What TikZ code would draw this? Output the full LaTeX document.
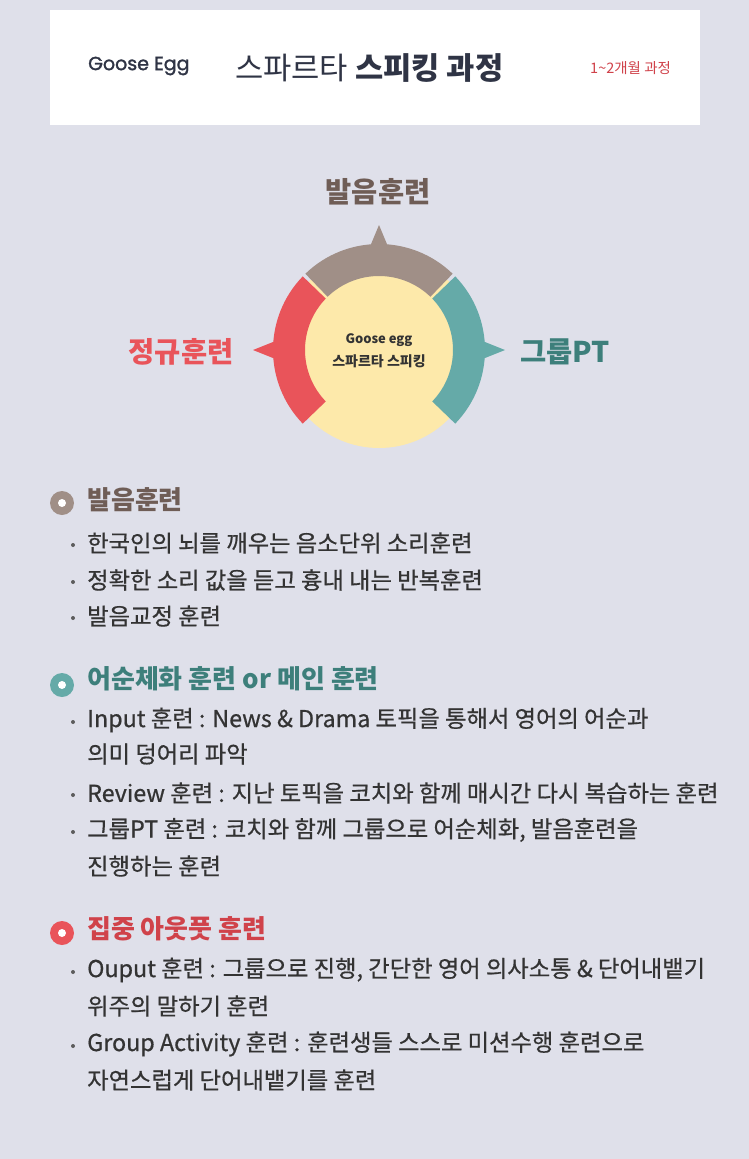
\documentclass[tikz,border=0pt]{standalone}
\usepackage{fontspec}
\setmainfont{Noto Sans CJK KR}
\newfontfamily\popfont[FakeBold=1.5]{Poppins}
\newfontfamily\medfont[FakeBold=0.6]{Noto Sans CJK KR}
\definecolor{bg}{HTML}{DFE0EA}
\definecolor{cbrown}{HTML}{A08F87}
\definecolor{tbrown}{HTML}{6F5D56}
\definecolor{cred}{HTML}{E9545A}
\definecolor{tred}{HTML}{D0424A}
\definecolor{cteal}{HTML}{65AAA8}
\definecolor{tteal}{HTML}{3D7F7B}
\definecolor{cyellow}{HTML}{FDE9AA}
\definecolor{navy}{HTML}{2F3445}
\definecolor{body}{HTML}{333333}
\tikzset{
  txt/.style={inner sep=0pt, anchor=west, text=body, font=\medfont\fontsize{23.3}{27}\selectfont},
  head/.style={inner sep=0pt, anchor=west, font=\fontsize{26}{30}\selectfont\bfseries},
  lbl/.style={inner sep=0pt, font=\fontsize{28.5}{33}\selectfont\bfseries},
  dot/.style={circle, fill=body!80, inner sep=0pt, minimum size=4pt},
  ring/.style={circle, inner sep=0pt, minimum size=24pt},
  hole/.style={circle, fill=white, inner sep=0pt, minimum size=8pt}
}
\begin{document}
\begin{tikzpicture}[x=1pt,y=-1pt]
\fill[bg] (0,0) rectangle (749,1159);
\useasboundingbox (0,0) rectangle (749,1159);
% header
\fill[white] (50,10) rectangle (700,125);
\node[inner sep=0pt, anchor=west, text=navy, font=\popfont\fontsize{19}{22}\selectfont] (brand) at (88,66) {Goose Egg};
\node[inner sep=0pt, anchor=west, text=navy, font=\fontsize{30.7}{36}\selectfont] (title) at (235,68) {스파르타 \textbf{스피킹 과정}};
\node[inner sep=0pt, anchor=west, text=tred, font=\fontsize{14.5}{17}\selectfont] (period) at (590,68) {1\textasciitilde 2개월 과정};
% diagram
\begin{scope}[shift={(379,350)}, y=1pt]
  \fill[cyellow] (0,0) circle[radius=98];
  \fill[cbrown] (46:106) arc[start angle=46,end angle=134,radius=106] -- (134:74) arc[start angle=134,end angle=46,radius=74] -- cycle;
  \fill[cred] (136:106) arc[start angle=136,end angle=224,radius=106] -- (224:74) arc[start angle=224,end angle=136,radius=74] -- cycle;
  \fill[cteal] (-44:106) arc[start angle=-44,end angle=44,radius=106] -- (44:74) arc[start angle=44,end angle=-44,radius=74] -- cycle;
  \fill[cbrown] (-10,101) -- (0,125) -- (10,101) -- cycle;
  \fill[cred] (-101,-10) -- (-126,0) -- (-101,10) -- cycle;
  \fill[cteal] (101,-10) -- (126,0) -- (101,10) -- cycle;
  \node[inner sep=0pt, text=body, font=\fontsize{13}{16}\selectfont\bfseries] (c1) at (0,10) {Goose egg};
  \node[inner sep=0pt, text=body, font=\fontsize{14}{17}\selectfont\bfseries] (c2) at (0,-11) {스파르타 스피킹};
\end{scope}
\node[lbl, text=tbrown] (ltop) at (378,192) {발음훈련};
\node[lbl, text=cred] (lleft) at (181,352) {정규훈련};
\node[lbl, text=tteal] (lright) at (565,352) {그룹PT};
% section 1
\node[ring, fill=cbrown] (b1) at (62,503) {};
\node[hole] (h1) at (b1) {};
\node[head, text=tbrown] (s1) at (87,500) {발음훈련};
\node[dot] (d11) at (73,545) {};
\node[txt] (t11) at (87,543) {한국인의 뇌를 깨우는 음소단위 소리훈련};
\node[dot] (d12) at (73,582) {};
\node[txt] (t12) at (87,580) {정확한 소리 값을 듣고 흉내 내는 반복훈련};
\node[dot] (d13) at (73,618) {};
\node[txt] (t13) at (87,616) {발음교정 훈련};
% section 2
\node[ring, fill=cteal] (b2) at (62,685) {};
\node[hole] (h2) at (b2) {};
\node[head, text=tteal] (s2) at (87,679) {어순체화 훈련 or 메인 훈련};
\node[dot] (d21) at (73,722) {};
\node[txt] (t21) at (87,720) {Input 훈련 : News \& Drama 토픽을 통해서 영어의 어순과};
\node[txt] (t22) at (87,754) {의미 덩어리 파악};
\node[dot] (d23) at (73,795) {};
\node[txt] (t23) at (87,793) {Review 훈련 : 지난 토픽을 코치와 함께 매시간 다시 복습하는 훈련};
\node[dot] (d24) at (73,832) {};
\node[txt] (t24) at (87,830) {그룹PT 훈련 : 코치와 함께 그룹으로 어순체화, 발음훈련을};
\node[txt] (t25) at (87,866) {진행하는 훈련};
% section 3
\node[ring, fill=cred] (b3) at (62,933) {};
\node[hole] (h3) at (b3) {};
\node[head, text=tred] (s3) at (87,929) {집중 아웃풋 훈련};
\node[dot] (d31) at (73,972) {};
\node[txt] (t31) at (87,970) {Ouput 훈련 : 그룹으로 진행, 간단한 영어 의사소통 \& 단어내뱉기};
\node[txt] (t32) at (87,1006) {위주의 말하기 훈련};
\node[dot] (d33) at (73,1046) {};
\node[txt] (t33) at (87,1044) {Group Activity 훈련 : 훈련생들 스스로 미션수행 훈련으로};
\node[txt] (t34) at (87,1080) {자연스럽게 단어내뱉기를 훈련};
\end{tikzpicture}
\end{document}
